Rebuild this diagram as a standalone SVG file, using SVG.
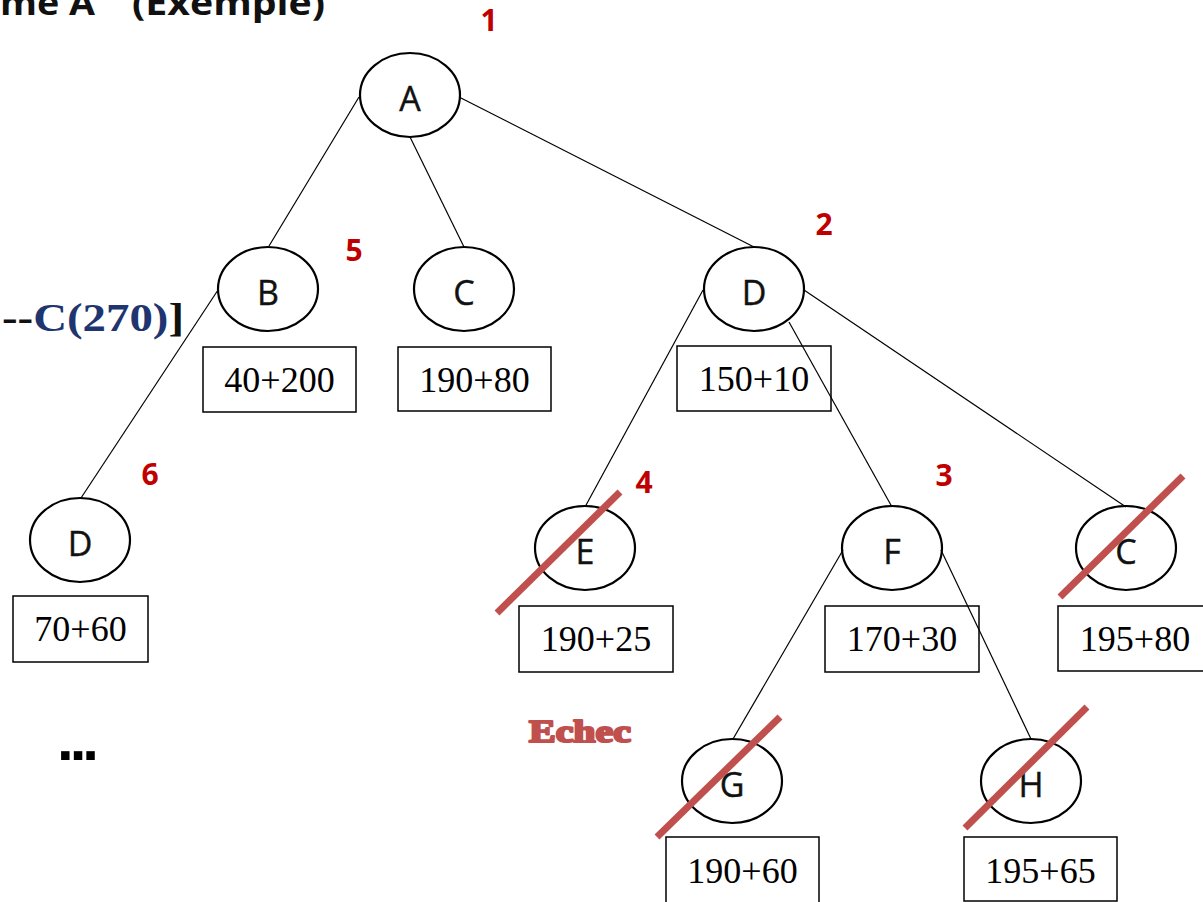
<svg xmlns="http://www.w3.org/2000/svg" width="1203" height="902" viewBox="0 0 1203 902">
<style>
.node{fill:#fff;stroke:#000;stroke-width:2.2}
.lbl{font-family:"Open Sans","Liberation Sans",sans-serif;font-size:34px;fill:#111;stroke:#111;stroke-width:0.4;text-anchor:middle}
.box{fill:#fff;stroke:#000;stroke-width:1.5}
.val{font-family:"Liberation Serif",serif;font-size:36px;fill:#000;text-anchor:middle}
.num{font-family:"Open Sans","Liberation Sans",sans-serif;font-weight:bold;font-size:30px;fill:#c00000;text-anchor:middle}
.edge{stroke:#000;stroke-width:1.2;fill:none}
.cross{stroke:#c0504d;stroke-width:7;stroke-linecap:butt}
</style>
<rect width="1203" height="902" fill="#fff"/>
<text x="0" y="15" font-family="'Open Sans','Liberation Sans',sans-serif" font-weight="bold" font-size="34" fill="#111" textLength="95" lengthAdjust="spacingAndGlyphs">me A</text>
<text x="132" y="15" font-family="'Open Sans','Liberation Sans',sans-serif" font-weight="bold" font-size="34" fill="#111" textLength="193" lengthAdjust="spacingAndGlyphs">(Exemple)</text>
<text x="2" y="331" font-family="'Liberation Serif',serif" font-weight="bold" font-size="40" fill="#111" textLength="182" lengthAdjust="spacingAndGlyphs">--<tspan fill="#1f3570">C(270)</tspan>]</text>
<text x="57" y="760" font-family="'Liberation Sans',sans-serif" font-weight="bold" font-size="60" fill="#000" letter-spacing="-4">...</text>
<text x="580" y="742" font-family="'Liberation Serif',serif" font-weight="bold" font-size="31" fill="#c0504d" stroke="#c0504d" stroke-width="2.2" stroke-linejoin="round" text-anchor="middle" textLength="102" lengthAdjust="spacingAndGlyphs">Echec</text>
<g id="nA"><ellipse class="node" cx="410" cy="95" rx="50" ry="42"/><text class="lbl" x="410" y="111">A</text></g>
<g id="nB"><ellipse class="node" cx="268" cy="289" rx="50" ry="42"/><text class="lbl" x="268" y="305">B</text>
<rect class="box" x="203" y="347" width="153" height="65"/><text class="val" x="279.5" y="392">40+200</text></g>
<g id="nC1"><ellipse class="node" cx="464" cy="289" rx="50" ry="42"/><text class="lbl" x="464" y="305">C</text>
<rect class="box" x="398" y="347" width="153" height="64"/><text class="val" x="474.5" y="392">190+80</text></g>
<g id="nD1"><ellipse class="node" cx="754" cy="289" rx="50" ry="42"/><text class="lbl" x="754" y="305">D</text>
<rect class="box" x="677" y="346" width="154" height="65"/><text class="val" x="754" y="391">150+10</text></g>
<g id="nD2"><ellipse class="node" cx="80" cy="540" rx="50" ry="42"/><text class="lbl" x="80" y="556">D</text>
<rect class="box" x="13" y="596" width="135" height="66"/><text class="val" x="80.5" y="641">70+60</text></g>
<g id="nE"><ellipse class="node" cx="585" cy="548" rx="50" ry="42"/><text class="lbl" x="585" y="564">E</text>
<rect class="box" x="519" y="606" width="154" height="66"/><text class="val" x="596" y="651">190+25</text></g>
<g id="nF"><ellipse class="node" cx="892" cy="548" rx="50" ry="42"/><text class="lbl" x="892" y="564">F</text>
<rect class="box" x="825" y="606" width="154" height="66"/><text class="val" x="902" y="651">170+30</text></g>
<g id="nC2"><ellipse class="node" cx="1126" cy="548" rx="50" ry="42"/><text class="lbl" x="1126" y="564">C</text>
<rect class="box" x="1058" y="606" width="150" height="65"/><text class="val" x="1135" y="651">195+80</text></g>
<g id="nG"><ellipse class="node" cx="732" cy="781" rx="50" ry="42"/><text class="lbl" x="732" y="797">G</text>
<rect class="box" x="666" y="837" width="153" height="70"/><text class="val" x="742.5" y="883">190+60</text></g>
<g id="nH"><ellipse class="node" cx="1031" cy="781" rx="50" ry="42"/><text class="lbl" x="1031" y="797">H</text>
<rect class="box" x="964" y="837" width="153" height="64"/><text class="val" x="1040.5" y="883">195+65</text></g>
<g id="connectors">
<line class="edge" x1="359" y1="97" x2="269" y2="246"/>
<line class="edge" x1="410" y1="137" x2="464" y2="247"/>
<line class="edge" x1="459" y1="97" x2="754" y2="247"/>
<line class="edge" x1="218" y1="290" x2="81" y2="498"/>
<line class="edge" x1="703" y1="290" x2="585" y2="507"/>
<line class="edge" x1="789" y1="322" x2="892" y2="507"/>
<line class="edge" x1="804" y1="290" x2="1126" y2="507"/>
<line class="edge" x1="843" y1="550" x2="733" y2="739"/>
<line class="edge" x1="941" y1="550" x2="1031" y2="739"/>
</g>
<g id="numbers">
<text class="num" x="489" y="31">1</text>
<text class="num" x="824" y="235">2</text>
<text class="num" x="944" y="486">3</text>
<text class="num" x="644" y="493">4</text>
<text class="num" x="354" y="261">5</text>
<text class="num" x="150" y="485">6</text>
</g>
<g id="crosses">
<line class="cross" x1="497" y1="613" x2="620" y2="492"/>
<line class="cross" x1="1060" y1="597" x2="1183" y2="476"/>
<line class="cross" x1="657" y1="837" x2="780" y2="717"/>
<line class="cross" x1="965" y1="828" x2="1087" y2="707"/>
</g>
</svg>
